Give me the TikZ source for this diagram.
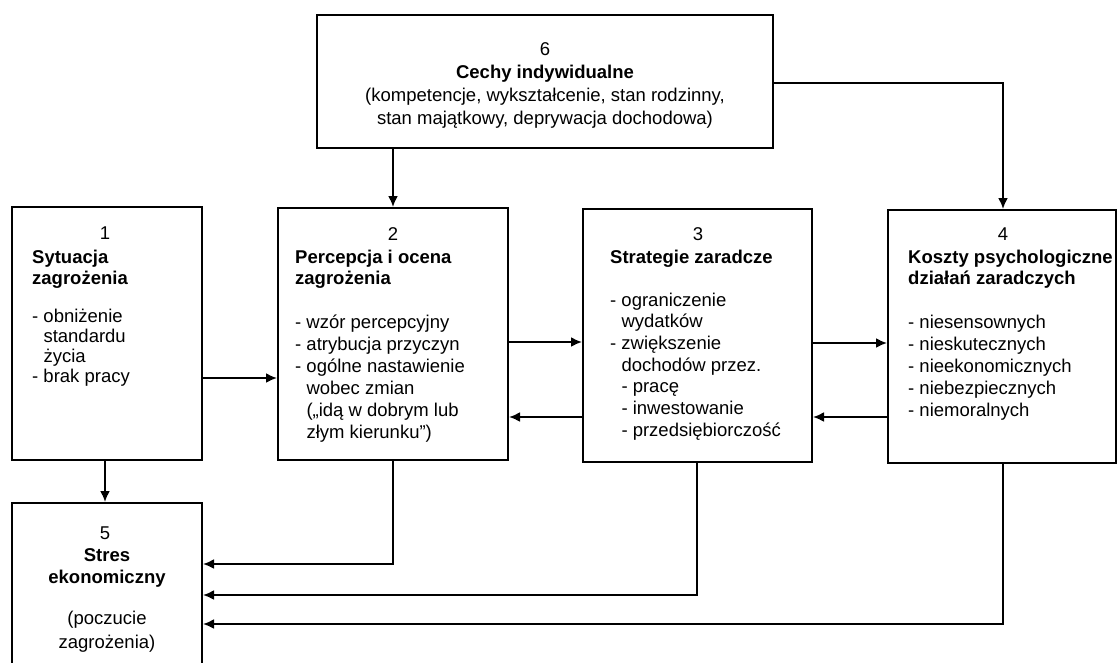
\documentclass[tikz,border=0pt]{standalone}
\usepackage{fontspec}
\setmainfont{Liberation Sans}
\usetikzlibrary{arrows.meta}
\begin{document}
\begin{tikzpicture}[x=1pt,y=-1pt,
  box/.style={draw, line width=2pt, rectangle, inner sep=0pt},
  arr/.style={line width=2pt, -{Latex[length=11pt,width=10pt]}},
  txt/.style={font=\fontsize{18.5}{22}\selectfont, inner sep=0pt, anchor=base west},
  ctxt/.style={txt, anchor=base},
]
\useasboundingbox (0,0) rectangle (1118,662);
\clip (0,0) rectangle (1118,662);
\newcommand\mybox[5]{\node[box, minimum width={#4-#2}, minimum height={#5-#3}] (#1) at ({(#2+#4)/2},{(#3+#5)/2}) {};}
\mybox{b6}{317}{15}{773}{148}
\mybox{b1}{12}{207}{202}{460}
\mybox{b2}{278}{208}{508}{460}
\mybox{b3}{583}{209}{812}{462}
\mybox{b4}{888}{210}{1116}{463}
\mybox{b5}{12}{503}{202}{700}

% box 6 text
\node[ctxt] (t6a) at (545,55) {6};
\node[ctxt] (t6b) at (545,78) {\bfseries Cechy indywidualne};
\node[ctxt] (t6c) at (545,101) {(kompetencje, wykształcenie, stan rodzinny,};
\node[ctxt] (t6d) at (545,124) {stan majątkowy, deprywacja dochodowa)};

% box 1 text
\node[ctxt] (t1n) at (105,239) {1};
\foreach \t [count=\i] in {{\bfseries Sytuacja},{\bfseries zagrożenia}}
  \node[txt] (t1h\i) at (32,{263+(\i-1)*21}) {\t};
\foreach \t [count=\i] in {{- obniżenie},{\phantom{- }standardu},{\phantom{- }życia},{- brak pracy}}
  \node[txt] (t1l\i) at (32,{322+(\i-1)*20}) {\t};

% box 2 text
\node[ctxt] (t2n) at (393,240) {2};
\foreach \t [count=\i] in {{\bfseries Percepcja i ocena},{\bfseries zagrożenia}}
  \node[txt] (t2h\i) at (295,{263+(\i-1)*21}) {\t};
\foreach \t [count=\i] in {{- wzór percepcyjny},{- atrybucja przyczyn},{- ogólne nastawienie},{\phantom{- }wobec zmian},{\phantom{- }(„idą w dobrym lub},{\phantom{- }złym kierunku”)}}
  \node[txt] (t2l\i) at (295,{328+(\i-1)*22}) {\t};

% box 3 text
\node[ctxt] (t3n) at (698,240) {3};
\node[txt] (t3h1) at (610,263) {\bfseries Strategie zaradcze};
\foreach \t [count=\i] in {{- ograniczenie},{\phantom{- }wydatków},{- zwiększenie},{\phantom{- }dochodów przez.},{\phantom{- }- pracę},{\phantom{- }- inwestowanie},{\phantom{- }- przedsiębiorczość}}
  \node[txt] (t3l\i) at (610,{306+(\i-1)*21.7}) {\t};

% box 4 text
\node[ctxt] (t4n) at (1003,240) {4};
\foreach \t [count=\i] in {{\bfseries Koszty psychologiczne},{\bfseries działań zaradczych}}
  \node[txt] (t4h\i) at (908,{263+(\i-1)*21}) {\t};
\foreach \t [count=\i] in {{- niesensownych},{- nieskutecznych},{- nieekonomicznych},{- niebezpiecznych},{- niemoralnych}}
  \node[txt] (t4l\i) at (908,{328+(\i-1)*22}) {\t};

% box 5 text
\node[ctxt] (t5a) at (105,539) {5};
\node[ctxt] (t5b) at (107,561) {\bfseries Stres};
\node[ctxt] (t5c) at (107,583) {\bfseries ekonomiczny};
\node[ctxt] (t5d) at (107,624) {(poczucie};
\node[ctxt] (t5e) at (107,648) {zagrożenia)};

% helper coordinates
\coordinate (x62) at (393,0);
\coordinate (x64) at (1003,0);
\coordinate (y64) at (0,83);
\coordinate (y12) at (0,378);
\coordinate (y23) at (0,342);
\coordinate (y32) at (0,417);
\coordinate (y34) at (0,343);
\coordinate (y43) at (0,417);
\coordinate (x15) at (105,0);
\coordinate (x25) at (393,0);
\coordinate (y25) at (0,564);
\coordinate (x35) at (697,0);
\coordinate (y35) at (0,595);
\coordinate (x45) at (1003,0);
\coordinate (y45) at (0,624);

% connectors
\draw[arr] (x62 |- b6.south) -- (x62 |- b2.north);
\draw[arr] (y64 -| b6.east) -| (x64 |- b4.north);
\draw[arr] (y12 -| b1.east) -- (y12 -| b2.west);
\draw[arr] (y23 -| b2.east) -- (y23 -| b3.west);
\draw[arr] (y32 -| b3.west) -- (y32 -| b2.east);
\draw[arr] (y34 -| b3.east) -- (y34 -| b4.west);
\draw[arr] (y43 -| b4.west) -- (y43 -| b3.east);
\draw[arr] (x15 |- b1.south) -- (x15 |- b5.north);
\draw[arr] (x25 |- b2.south) |- (y25 -| b5.east);
\draw[arr] (x35 |- b3.south) |- (y35 -| b5.east);
\draw[arr] (x45 |- b4.south) |- (y45 -| b5.east);
\end{tikzpicture}
\end{document}
